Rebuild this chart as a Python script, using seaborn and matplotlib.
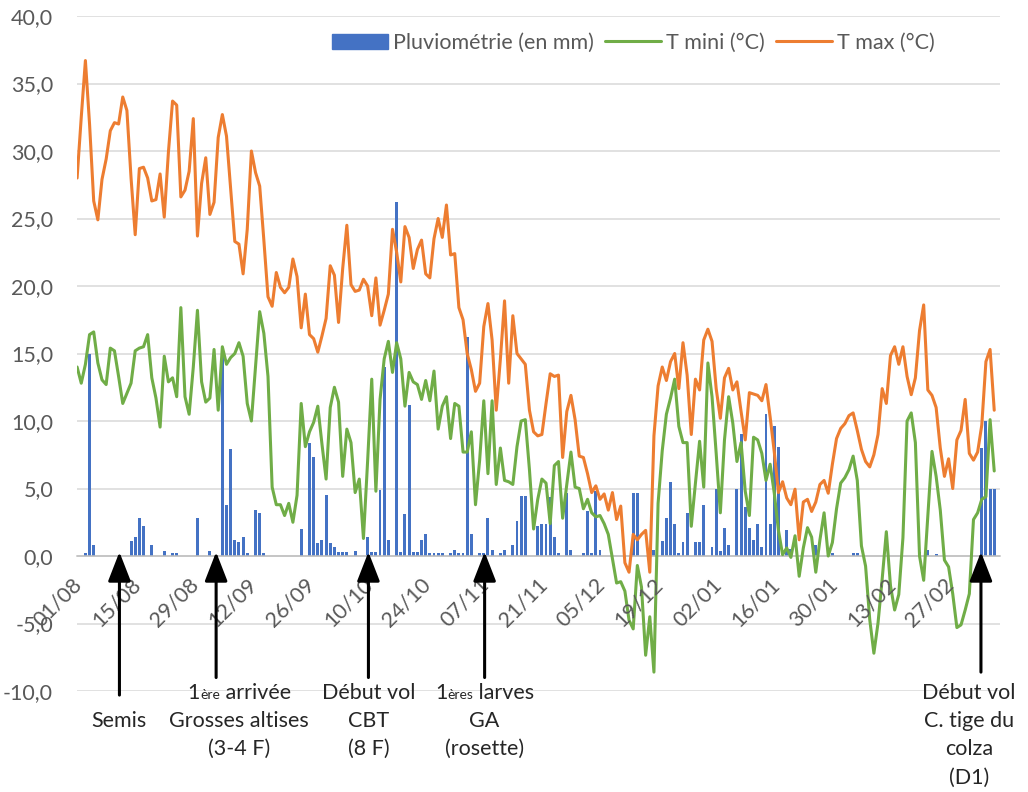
import matplotlib
matplotlib.use("Agg")
import matplotlib.pyplot as plt
import matplotlib.transforms as mtransforms
from matplotlib.lines import Line2D
from matplotlib.patches import Patch
import numpy as np
import pandas as pd
import seaborn as sns

# daily values from 01/08 (day 0) to 10/03 (day 221), one row = two weeks
T_MAX = [
    28.0, 32.5, 36.7, 32.0, 26.3, 24.9, 27.9, 29.4, 31.5, 32.1, 32.0, 34.0, 33.0, 28.0,
    23.8, 28.7, 28.8, 28.0, 26.3, 26.4, 28.3, 25.1, 29.9, 33.7, 33.4, 26.6, 27.1, 28.5,
    32.4, 23.7, 27.6, 29.5, 25.3, 26.2, 31.0, 32.7, 31.1, 27.2, 23.3, 23.1, 20.9, 24.2,
    30.0, 28.4, 27.4, 23.4, 19.2, 18.5, 21.0, 19.9, 19.5, 19.9, 22.0, 20.7, 16.9, 19.4,
    16.4, 16.1, 15.1, 16.3, 17.6, 21.5, 20.8, 17.3, 21.3, 24.5, 20.1, 19.6, 19.7, 20.5,
    20.0, 17.8, 20.6, 17.1, 18.2, 19.4, 24.2, 22.5, 20.3, 24.4, 23.6, 21.3, 22.7, 23.4,
    20.9, 20.6, 23.5, 25.0, 23.6, 26.0, 22.3, 22.4, 18.4, 17.5, 15.0, 13.8, 12.2, 12.8,
    17.0, 18.7, 16.0, 10.8, 14.6, 18.9, 12.8, 17.8, 15.0, 14.6, 14.2, 10.8, 9.2, 8.9,
    9.0, 11.3, 13.5, 13.3, 13.4, 7.3, 10.7, 11.9, 10.1, 7.4, 7.3, 6.1, 4.7, 5.2,
    4.2, 4.6, 3.4, 4.7, 2.7, 3.7, -0.5, -1.2, 1.6, 1.2, 1.6, 1.9, -1.2, 8.9,
    12.6, 14.0, 13.0, 14.4, 15.0, 12.4, 15.8, 13.4, 9.0, 13.1, 12.3, 16.0, 16.8, 15.9,
    12.4, 10.2, 13.2, 13.9, 12.3, 12.9, 10.7, 8.6, 12.1, 12.0, 11.9, 11.5, 12.7, 10.3,
    7.7, 4.7, 5.5, 4.3, 3.8, 4.95, 1.2, 4.0, 4.2, 3.3, 4.0, 5.3, 5.6, 4.65,
    6.8, 8.7, 9.45, 9.8, 10.4, 10.6, 9.3, 7.9, 7.0, 6.6, 7.5, 9.0, 12.4, 11.3,
    14.85, 15.5, 14.2, 15.5, 13.3, 11.95, 13.2, 16.7, 18.6, 12.3, 11.9, 11.0, 8.0, 5.9,
    7.2, 5.0, 8.6, 9.3, 11.6, 7.6, 7.1, 7.7, 9.7, 14.4, 15.3, 10.8,
]

T_MINI = [
    14.0, 12.8, 14.2, 16.4, 16.6, 14.3, 13.05, 12.7, 15.4, 15.2, 13.3, 11.3, 12.05, 12.8,
    15.2, 15.4, 15.5, 16.4, 13.2, 11.7, 9.55, 14.8, 12.9, 13.2, 11.8, 18.4, 11.8, 10.5,
    14.0, 18.2, 12.9, 11.4, 11.7, 15.3, 10.8, 15.5, 14.2, 14.7, 15.0, 15.8, 14.8, 11.3,
    10.0, 14.0, 18.1, 16.5, 13.3, 5.1, 3.8, 3.8, 3.0, 3.9, 2.5, 4.5, 11.3, 8.1,
    9.2, 9.9, 11.1, 8.3, 5.7, 11.0, 12.5, 11.4, 5.9, 9.4, 8.4, 4.7, 5.7, 1.3,
    7.0, 13.1, 4.8, 11.6, 14.6, 15.9, 13.6, 15.8, 14.6, 11.1, 13.6, 12.9, 12.7, 11.6,
    13.0, 11.5, 13.7, 9.4, 11.1, 11.8, 8.7, 11.3, 11.1, 7.7, 7.7, 9.2, 3.8, 7.1,
    11.5, 6.1, 11.5, 5.3, 8.0, 5.6, 5.5, 5.3, 8.1, 10.0, 10.1, 6.4, 2.0, 4.2,
    5.7, 5.4, 2.4, 6.7, 7.0, 2.8, 5.3, 7.7, 5.1, 5.0, 3.5, 4.2, 3.2, 2.9,
    3.0, 2.4, 1.6, -0.2, -2.0, -1.9, -2.6, -4.75, -5.4, -0.7, -2.3, -7.35, -4.5, -8.6,
    3.9, 7.8, 10.5, 11.7, 13.1, 9.6, 8.4, 8.4, 2.2, 5.4, 8.5, 5.1, 14.3, 11.8,
    7.6, 3.2, 8.6, 11.8, 9.85, 7.0, 8.4, 4.8, 3.0, 8.8, 8.6, 7.6, 5.6, 6.8,
    4.65, 1.9, 0.1, 0.6, -0.1, 1.5, -1.5, 0.6, 2.1, 1.4, -1.2, 1.2, 3.2, 0.0,
    1.0, 3.5, 5.4, 5.8, 6.4, 7.4, 5.6, 0.75, -0.75, -4.7, -7.2, -4.95, -1.7, 1.8,
    -2.2, -4.0, -2.85, 1.35, 10.0, 10.6, 8.4, 0.0, -1.8, 3.0, 7.75, 5.9, 3.4, -0.3,
    -0.8, -2.8, -5.3, -5.1, -4.0, -2.8, 2.7, 3.2, 4.2, 4.4, 10.1, 6.3,
]

RAIN = [
    0, 0, 0.2, 15.0, 0.85, 0, 0, 0, 0, 0, 0, 0, 0, 1.1,
    1.4, 2.8, 2.2, 0, 0.85, 0, 0, 0.4, 0, 0.2, 0.2, 0, 0, 0,
    0, 2.8, 0, 0, 0.4, 0, 0, 15.5, 3.8, 7.9, 1.2, 1.05, 1.4, 0.2,
    0, 3.4, 3.2, 0.2, 0, 0, 0, 0, 0, 0, 0, 0, 2.0, 0,
    8.4, 7.3, 1.0, 1.2, 4.5, 1.0, 0.7, 0.3, 0.3, 0.3, 0, 0.4, 0, 0,
    1.4, 0.3, 0.3, 4.9, 14.0, 1.2, 0, 26.2, 0.3, 3.1, 11.2, 0.3, 0.3, 1.2,
    1.6, 0.2, 0.2, 0.2, 0.2, 0, 0.2, 0.45, 0.25, 0.25, 16.2, 1.6, 0, 0.25,
    0.2, 2.8, 0.45, 0, 0.25, 0.45, 0, 0.8, 2.6, 4.45, 4.45, 0, 0, 2.2,
    2.4, 2.4, 4.4, 1.4, 0.2, 0, 4.7, 0.45, 0, 0, 0.2, 3.3, 0.2, 4.8,
    0.45, 0, 0, 0, 0, 0, 0, 0, 4.65, 4.65, 0, 0, 0, 0.45,
    0, 1.1, 2.8, 5.45, 2.4, 0.2, 1.05, 3.2, 0, 1.05, 1.05, 3.8, 0, 0.65,
    5.0, 0.4, 2.05, 0.8, 0, 5.0, 9.05, 3.65, 2.05, 1.2, 2.4, 0.65, 10.5, 2.4,
    9.65, 8.1, 0, 1.9, 0.5, 0, 0, 0, 0, 0, 0.85, 0, 0, 0,
    0.2, 0, 0, 0, 0, 0.2, 0.2, 0, 0, 0, 0, 0, 0, 0,
    0, 0, 0, 0, 0, 0, 0, 0.3, 0, 0.45, 0, 0.15, 0, 0,
    0, 0, 0, 0, 0, 0, 0, 0, 8.0, 10.0, 4.95, 4.95,
]

TICK_LABELS = ["01/08", "15/08", "29/08", "12/09", "26/09", "10/10", "24/10", "07/11",
               "21/11", "05/12", "19/12", "02/01", "16/01", "30/01", "13/02", "27/02"]
Y_TICKS = [-10, -5, 0, 5, 10, 15, 20, 25, 30, 35, 40]
Y_LABELS = ["-10,0", "-5,0", "0,0", "5,0", "10,0", "15,0", "20,0", "25,0", "30,0", "35,0", "40,0"]

FS = 15.5
FS_SMALL = 10

# events: arrow day, arrow tail (value), label centre day, label lines
EVENTS = [
    (10.2, -10.3, 10.0, [None, "Semis"]),
    (33.5, -9.0, 39.1, [[("1", FS), ("ère", FS_SMALL), (" arrivée", FS)], "Grosses altises", "(3-4 F)"]),
    (70.2, -9.0, 70.2, ["Début vol", "CBT", "(8 F)"]),
    (98.2, -9.0, 98.2, [[("1", FS), ("ères", FS_SMALL), (" larves", FS)], "GA", "(rosette)"]),
    (217.8, -8.6, 214.9, ["Début vol", "C. tige du", "colza", "(D1)"]),
]

BLUE = "#4472C4"
GREEN = "#70AD47"
ORANGE = "#ED7D31"
GREY_TXT = "#595959"

sns.set_style("white")
plt.rcParams["font.family"] = ["Lato", "DejaVu Sans"]

df = pd.DataFrame({"day": np.arange(len(T_MAX)), "tmax": T_MAX, "tmin": T_MINI, "rain": RAIN})

fig = plt.figure(figsize=(10.28, 7.92), dpi=100)
ax = fig.add_axes([0.0746, 0.1275, 0.8982, 0.8523])

sns.barplot(data=df, x="day", y="rain", native_scale=True, color=BLUE, saturation=1,
            width=0.7, errorbar=None, linewidth=0, ax=ax, zorder=2)
sns.lineplot(data=df, x="day", y="tmin", color=GREEN, lw=2.2, ax=ax, zorder=3)
sns.lineplot(data=df, x="day", y="tmax", color=ORANGE, lw=2.2, ax=ax, zorder=4)

ax.set_xlim(-0.1, 222.4)
ax.set_ylim(-10, 40)
ax.set_xlabel("")
ax.set_ylabel("")

ax.set_yticks(Y_TICKS, Y_LABELS, fontsize=FS, color=GREY_TXT)
tick_days = np.arange(len(TICK_LABELS)) * 14
ax.set_xticks(tick_days, [""] * len(tick_days))
ax.tick_params(axis="y", length=0, pad=17)
ax.tick_params(axis="x", length=6, width=1, color="#BFBFBF")

# rotated date labels, right end just under each tick
label_shift = mtransforms.ScaledTranslation(2 / 100, -25 / 100, fig.dpi_scale_trans)
for d, lab in zip(tick_days, TICK_LABELS):
    ax.text(d, 0, lab, rotation=45, ha="right", va="center", rotation_mode="anchor",
            fontsize=FS, color=GREY_TXT, transform=ax.transData + label_shift, clip_on=False)

ax.yaxis.grid(True, color="#D9D9D9", lw=1.1)
ax.xaxis.grid(False)
ax.set_axisbelow(True)
for side in ["top", "right", "left"]:
    ax.spines[side].set_visible(False)
ax.spines["bottom"].set_position(("data", 0))
ax.spines["bottom"].set_color("#BFBFBF")
ax.spines["bottom"].set_linewidth(1.1)

handles = [Patch(color=BLUE), Line2D([], [], color=GREEN, lw=2.2), Line2D([], [], color=ORANGE, lw=2.2)]
leg = ax.legend(handles, ["Pluviométrie (en mm)", "T mini (°C)", "T max (°C)"],
                loc="center", bbox_to_anchor=(0.616, 0.9457), bbox_transform=fig.transFigure,
                ncol=3, frameon=False, fontsize=FS, handlelength=2.6, handletextpad=0.25,
                columnspacing=0.5)
for t in leg.get_texts():
    t.set_color(GREY_TXT)

# arrows and stage labels under the axis
renderer = fig.canvas.get_renderer()
line_pitch = 28 / 13.48
first_base = -10.61


def rich_line(x, y, parts):
    texts, widths = [], []
    for s, size in parts:
        t = ax.text(x, y, s, fontsize=size, ha="left", va="baseline", clip_on=False)
        texts.append(t)
        widths.append(t.get_window_extent(renderer).width)
    off = -sum(widths) / 2
    for t, w in zip(texts, widths):
        t.set_transform(ax.transData + mtransforms.ScaledTranslation(off / fig.dpi, 0, fig.dpi_scale_trans))
        off += w


for arrow_x, tail, text_x, lines in EVENTS:
    ax.annotate("", xy=(arrow_x, 0.3), xytext=(arrow_x, tail), annotation_clip=False,
                arrowprops=dict(arrowstyle="-|>,head_width=0.35,head_length=0.9",
                                color="black", lw=2.2, mutation_scale=20, shrinkA=0, shrinkB=0),
                zorder=6)
    for i, line in enumerate(lines):
        y = first_base - i * line_pitch
        if line is None:
            continue
        if isinstance(line, list):
            rich_line(text_x, y, line)
        else:
            ax.text(text_x, y, line, fontsize=FS, ha="center", va="baseline", clip_on=False)

fig.savefig("out.png", dpi=100)
